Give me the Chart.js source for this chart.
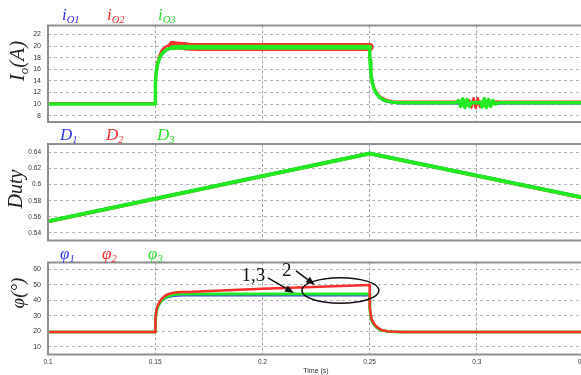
<!DOCTYPE html>
<html>
<head>
<meta charset="utf-8">
<script src="https://cdn.jsdelivr.net/npm/chart.js@4.4.1/dist/chart.umd.min.js"></script>
<style>
  html, body { margin: 0; padding: 0; background: #fff; overflow: hidden; }
  #wrap { position: relative; width: 581px; height: 375px; overflow: hidden; background: #fff; }
  canvas { position: absolute; left: 0; }
  .lbl { position: absolute; font-family: "Liberation Serif", "DejaVu Serif", serif; font-style: italic;
         font-size: 17px; white-space: nowrap; line-height: 1; z-index: 2; }
  .lbl sub { font-size: 0.62em; vertical-align: baseline; position: relative; top: 0.32em; }
  .ytitle { position: absolute; font-family: "Liberation Serif", "DejaVu Serif", serif; font-style: italic;
            white-space: nowrap; line-height: 1; color: #222; z-index: 2;
            transform: translate(-50%, -50%) rotate(-90deg); }
  .ytitle sub { font-size: 0.62em; vertical-align: baseline; position: relative; top: 0.3em; }
  .b { color: #3535f5; } .r { color: #f23030; } .g { color: #2fdc2f; }
</style>
</head>
<body>
<div id="wrap">
  <canvas id="cIo" width="600" height="130" style="top:0px"></canvas>
  <canvas id="cDuty" width="600" height="115" style="top:130px"></canvas>
  <canvas id="cPhi" width="600" height="130" style="top:245px"></canvas>

  <div class="lbl b" style="left:62px;top:6px">i<sub>O1</sub></div>
  <div class="lbl r" style="left:107px;top:6px">i<sub>O2</sub></div>
  <div class="lbl g" style="left:158px;top:6px">i<sub>O3</sub></div>

  <div class="lbl b" style="left:60px;top:126px">D<sub>1</sub></div>
  <div class="lbl r" style="left:106px;top:126px">D<sub>2</sub></div>
  <div class="lbl g" style="left:157px;top:126px">D<sub>3</sub></div>

  <div class="lbl b" style="left:60px;top:245px">φ<sub>1</sub></div>
  <div class="lbl r" style="left:102px;top:245px">φ<sub>2</sub></div>
  <div class="lbl g" style="left:148px;top:245px">φ<sub>3</sub></div>

  <div class="ytitle" style="left:17px;top:61px;font-size:21px">I<sub>o</sub>(A)</div>
  <div class="ytitle" style="left:15px;top:189px;font-size:20px">Duty</div>
  <div class="ytitle" style="left:17px;top:293px;font-size:19px">φ(°)</div>
</div>

<script>
// ---- time axis ----
const timeTicks = [0.1, 0.15, 0.2, 0.25, 0.3, 0.35];
const timeTickLabels = ['0.1', '0.15', '0.2', '0.25', '0.3', '0.35'];

// ---- output currents (A) ----
const timeIo = [0.1, 0.15, 0.1501, 0.1505, 0.151, 0.152, 0.153, 0.1545, 0.156, 0.158, 0.16, 0.163, 0.166, 0.17,
                0.2, 0.25, 0.2502, 0.2506, 0.2512, 0.252, 0.253, 0.2545, 0.256, 0.258, 0.261, 0.265, 0.27,
                0.29, 0.2915, 0.2925, 0.2935, 0.2945, 0.2955, 0.2965, 0.2975, 0.2985, 0.2995, 0.3005, 0.3015,
                0.3025, 0.3035, 0.3045, 0.3055, 0.3065, 0.3075, 0.3085, 0.31, 0.35];
const io1 = [10.0, 10.0, 13.7, 15.4, 16.5, 17.7, 18.4, 19.0, 19.4, 19.6, 19.7, 19.7, 19.7, 19.7,
             19.7, 19.7, 17.3, 15.2, 13.7, 12.6, 11.8, 11.1, 10.7, 10.4, 10.2, 10.1, 10.1,
             10.1, 10.1, 10.1, 10.1, 10.1, 10.1, 10.1, 10.1, 10.1, 10.1, 10.1, 10.1,
             10.1, 10.1, 10.1, 10.1, 10.1, 10.1, 10.1, 10.1, 10.1];
const io2 = [10.15, 10.15, 13.9, 15.9, 17.1, 18.4, 19.2, 19.8, 20.1, 20.2, 20.1, 20.0, 19.9, 19.85,
             19.85, 19.85, 17.6, 15.5, 14.0, 12.9, 12.1, 11.4, 11.0, 10.7, 10.45, 10.4, 10.4,
             10.4, 10.4, 10.3, 10.4, 10.5, 10.4, 10.6, 9.4, 11.0, 9.3, 11.0, 9.5,
             10.4, 10.5, 10.4, 10.3, 10.4, 10.4, 10.4, 10.4, 10.4];
const io3 = [10.0, 10.0, 13.8, 15.6, 16.7, 17.9, 18.6, 19.2, 19.5, 19.7, 19.8, 19.8, 19.8, 19.8,
             19.8, 19.8, 17.4, 15.3, 13.8, 12.7, 11.9, 11.2, 10.8, 10.5, 10.3, 10.2, 10.2,
             10.2, 10.6, 9.6, 10.9, 9.4, 10.8, 9.6, 10.3, 10.2, 10.2, 10.2, 10.4,
             9.5, 10.9, 9.4, 10.8, 9.6, 10.6, 10.0, 10.2, 10.2];
const ioTicks = [8, 10, 12, 14, 16, 18, 20, 22];

// ---- duty ratios ----
const timeDuty = [0.1, 0.25, 0.35];
const duty1 = [0.5545, 0.6388, 0.5838];
const duty2 = [0.5542, 0.6384, 0.5834];
const duty3 = [0.5545, 0.6386, 0.5836];
const dutyTicks = [0.54, 0.56, 0.58, 0.6, 0.62, 0.64];
const dutyTickLabels = ['0.54', '0.56', '0.58', '0.6', '0.62', '0.64'];

// ---- phase shift angles (deg) ----
const timePhi = [0.1, 0.15, 0.1501, 0.1505, 0.151, 0.152, 0.153, 0.1545, 0.156, 0.158, 0.16, 0.163, 0.166, 0.17,
                 0.2, 0.25, 0.2501, 0.2505, 0.251, 0.252, 0.253, 0.2545, 0.256, 0.258, 0.261, 0.265, 0.29, 0.35];
const phi1 = [19.5, 19.5, 27.5, 31.5, 34.5, 37.5, 39.4, 41.0, 41.9, 42.5, 42.8, 43.0, 43.0, 43.0,
              43.0, 43.0, 33.5, 29.5, 26.6, 24.2, 22.5, 21.1, 20.4, 19.9, 19.6, 19.5, 19.5, 19.5];
const phi2 = [19.6, 19.6, 28.5, 32.8, 36.0, 39.0, 41.0, 42.9, 44.0, 44.8, 45.2, 45.4, 45.5, 45.7,
              47.5, 50.0, 35.5, 30.8, 27.6, 25.0, 23.2, 21.6, 20.7, 20.1, 19.8, 19.6, 19.6, 19.6];
const phi3 = [19.5, 19.5, 28.0, 32.0, 35.0, 38.0, 40.0, 41.8, 42.8, 43.5, 43.9, 44.1, 44.2, 44.2,
              44.2, 44.2, 34.0, 30.0, 27.0, 24.5, 22.8, 21.3, 20.5, 20.0, 19.7, 19.5, 19.5, 19.5];
const phiTicks = [10, 20, 30, 40, 50, 60];

const BLUE = '#3a3aff', RED = '#ff2e2e', GREEN = '#22ea22';
const tickFont = { family: '"Liberation Sans", Arial, sans-serif', size: 7 };

const pts = (t, v) => t.map((x, i) => ({ x, y: v[i] }));

// gray box around each plot area
const framePlugin = {
  id: 'panelFrame',
  afterDatasetsDraw(chart) {
    const { ctx, chartArea: a } = chart;
    ctx.save();
    ctx.strokeStyle = '#8e8e8e';
    ctx.lineWidth = 2;
    ctx.strokeRect(a.left, a.top, a.right - a.left, a.bottom - a.top);
    ctx.restore();
  }
};

function lineSet(label, data, color, width, order, segment) {
  const ds = { label, data, borderColor: color, borderWidth: width, pointRadius: 0,
               tension: 0, fill: false, order, borderJoinStyle: 'round', borderCapStyle: 'round' };
  if (segment) ds.segment = segment;
  return ds;
}

function panel(id, datasets, y, opts) {
  const xAxis = {
    type: 'linear', min: 0.1, max: 0.35,
    afterBuildTicks: ax => { ax.ticks = timeTicks.map(v => ({ value: v })); },
    grid: { color: c => (c.tick && (c.tick.value === 0.1 || c.tick.value === 0.35)) ? 'rgba(0,0,0,0)' : '#a4a4a4',
            lineWidth: 1, drawTicks: false },
    border: { display: false, dash: [3, 2] },
    ticks: { display: !!opts.xLabels, font: { ...tickFont, size: 6.5 }, color: '#333', padding: 4,
             maxRotation: 0, autoSkip: false, callback: (v, i) => timeTickLabels[i] },
    title: { display: !!opts.xLabels, text: 'Time (s)', font: { ...tickFont, size: 7 }, color: '#333',
             padding: 0 },
    afterFit: ax => { ax.height = opts.xHeight; }
  };
  const yAxis = {
    type: 'linear', min: y.min, max: y.max,
    afterBuildTicks: ax => { ax.ticks = y.ticks.map(v => ({ value: v })); },
    // label offset comes from an invisible tick mark so it does not pad the plot area
    grid: { color: '#b4b4b4', lineWidth: 1, drawTicks: true, tickLength: 7, tickColor: 'rgba(0,0,0,0)' },
    border: { display: false, dash: [3, 3] },
    ticks: { font: { ...tickFont, size: y.fontSize || 7 }, color: '#333', padding: 0,
             autoSkip: false, callback: y.label },
    afterFit: ax => { ax.width = 48; }
  };
  return new Chart(document.getElementById(id), {
    type: 'line',
    data: { datasets },
    options: {
      responsive: false, animation: false, devicePixelRatio: 1,
      layout: { padding: { top: opts.top, bottom: opts.bottom, left: 0, right: 16 } },
      plugins: { legend: { display: false }, tooltip: { enabled: false } },
      scales: { x: xAxis, y: yAxis }
    },
    plugins: [framePlugin].concat(opts.plugins || [])
  });
}

// current panel: the ripple band on the high-load plateau is shown as a wider stroke
const plateau = w => ({
  borderWidth: c => (c.p0.parsed.x >= 0.158 && c.p1.parsed.x <= 0.25) ? w : undefined
});

panel('cIo', [
  lineSet('iO3', pts(timeIo, io3), GREEN, 3.5, 1, plateau(5)),
  lineSet('iO2', pts(timeIo, io2), RED, 2.5, 2, plateau(8)),
  lineSet('iO1', pts(timeIo, io1), BLUE, 2, 3)
], { min: 6.9, max: 23.55, ticks: ioTicks, label: v => String(v) },
   { top: 25.5, bottom: 8, xHeight: 0 });

panel('cDuty', [
  lineSet('D3', pts(timeDuty, duty3), GREEN, 4, 1),
  lineSet('D2', pts(timeDuty, duty2), RED, 3.5, 2),
  lineSet('D1', pts(timeDuty, duty1), BLUE, 3, 3)
], { min: 0.5307, max: 0.6503, ticks: dutyTicks, fontSize: 6.5,
     label: (v, i) => dutyTickLabels[i] },
   { top: 14, bottom: 4.5, xHeight: 0 });

// callouts on the phase panel, placed in data units
const callouts = {
  texts: [ { t: 0.1958, v: 55.6, s: '1,3' }, { t: 0.2113, v: 59.3, s: '2' } ],
  arrows: [ { t0: 0.2026, v0: 54.6, t1: 0.2147, v1: 44.8 },
            { t0: 0.2157, v0: 59.1, t1: 0.2245, v1: 50.0 } ],
  ellipse: { t: 0.2364, v: 46.4, dt: 0.01796, dv: 8.3 }
};

const calloutPlugin = {
  id: 'callouts',
  afterDatasetsDraw(chart) {
    const { ctx, scales: { x, y } } = chart;
    const px = t => x.getPixelForValue(t), py = v => y.getPixelForValue(v);
    ctx.save();
    ctx.strokeStyle = '#111'; ctx.fillStyle = '#111'; ctx.lineWidth = 1.5;
    const e = callouts.ellipse;
    ctx.beginPath();
    ctx.ellipse(px(e.t), py(e.v), px(e.t + e.dt) - px(e.t), py(e.v) - py(e.v + e.dv), 0, 0, Math.PI * 2);
    ctx.stroke();
    for (const a of callouts.arrows) {
      const x0 = px(a.t0), y0 = py(a.v0), x1 = px(a.t1), y1 = py(a.v1);
      const ang = Math.atan2(y1 - y0, x1 - x0), L = 9, W = 3.5;
      const bx = x1 - L * Math.cos(ang), by = y1 - L * Math.sin(ang);
      ctx.beginPath(); ctx.moveTo(x0, y0); ctx.lineTo(bx, by); ctx.stroke();
      ctx.beginPath();
      ctx.moveTo(x1, y1);
      ctx.lineTo(bx + W * Math.sin(ang), by - W * Math.cos(ang));
      ctx.lineTo(bx - W * Math.sin(ang), by + W * Math.cos(ang));
      ctx.closePath(); ctx.fill();
    }
    ctx.font = '19px "Liberation Serif", "DejaVu Serif", serif';
    ctx.textAlign = 'center'; ctx.textBaseline = 'middle';
    for (const tx of callouts.texts) ctx.fillText(tx.s, px(tx.t), py(tx.v));
    ctx.restore();
  }
};

panel('cPhi', [
  lineSet('φ3', pts(timePhi, phi3), GREEN, 3, 2),
  lineSet('φ2', pts(timePhi, phi2), RED, 2.5, 1),
  lineSet('φ1', pts(timePhi, phi1), BLUE, 1.5, 3)
], { min: 5, max: 64.5, ticks: phiTicks, label: v => String(v) },
   { top: 17.5, bottom: 0, xHeight: 20.5, xLabels: true, plugins: [calloutPlugin] });
</script>
</body>
</html>
